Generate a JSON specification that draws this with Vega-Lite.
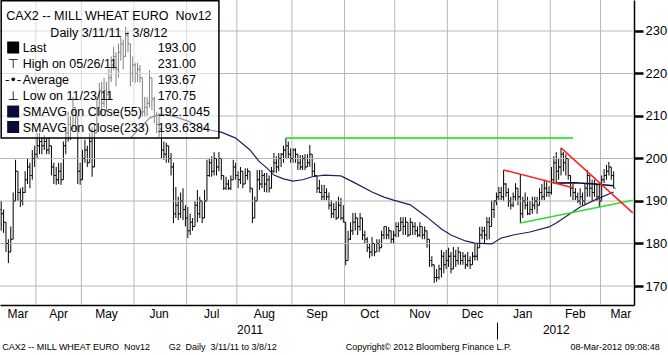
{
  "$schema": "https://vega.github.io/schema/vega-lite/v6.json",
  "width": 634,
  "height": 305,
  "autosize": "none",
  "padding": {"left": 0, "top": 0, "right": 34, "bottom": 50},
  "background": "white",
  "config": {"view": {"stroke": null}, "font": "Liberation Sans"},
  "datasets": {
    "px": [
      {"d":"2011-03-11","o":188,"h":190,"l":183,"c":187},
      {"d":"2011-03-14","o":187,"h":188,"l":182.5,"c":185},
      {"d":"2011-03-15","o":185,"h":185,"l":178,"c":180},
      {"d":"2011-03-16","o":180,"h":181,"l":175.4,"c":178},
      {"d":"2011-03-17","o":178,"h":184,"l":178,"c":181},
      {"d":"2011-03-18","o":181,"h":192,"l":181,"c":190},
      {"d":"2011-03-21","o":190,"h":199.7,"l":190,"c":197},
      {"d":"2011-03-22","o":197,"h":197,"l":190,"c":192},
      {"d":"2011-03-23","o":192,"h":193,"l":188.6,"c":190},
      {"d":"2011-03-24","o":190,"h":193.3,"l":189,"c":192},
      {"d":"2011-03-25","o":192,"h":197,"l":191.9,"c":195},
      {"d":"2011-03-28","o":195,"h":200,"l":194,"c":198},
      {"d":"2011-03-29","o":198,"h":199,"l":193,"c":196},
      {"d":"2011-03-30","o":196,"h":202,"l":195,"c":200},
      {"d":"2011-03-31","o":200,"h":203,"l":198,"c":201},
      {"d":"2011-04-01","o":201,"h":206,"l":200,"c":203},
      {"d":"2011-04-04","o":203,"h":206,"l":201,"c":204},
      {"d":"2011-04-05","o":204,"h":205,"l":201,"c":203},
      {"d":"2011-04-06","o":203,"h":205.5,"l":202,"c":204},
      {"d":"2011-04-07","o":204,"h":205,"l":201,"c":202},
      {"d":"2011-04-08","o":202,"h":205,"l":201,"c":203},
      {"d":"2011-04-11","o":203,"h":203,"l":196,"c":198},
      {"d":"2011-04-12","o":198,"h":199,"l":194,"c":196},
      {"d":"2011-04-13","o":196,"h":198,"l":193.8,"c":195},
      {"d":"2011-04-14","o":195,"h":199,"l":194,"c":197},
      {"d":"2011-04-15","o":197,"h":199,"l":193.8,"c":195},
      {"d":"2011-04-18","o":195,"h":204,"l":195,"c":203},
      {"d":"2011-04-19","o":203,"h":207.4,"l":201,"c":206},
      {"d":"2011-04-20","o":206,"h":211,"l":204,"c":208},
      {"d":"2011-04-21","o":208,"h":210,"l":204.4,"c":207},
      {"d":"2011-04-26","o":207,"h":214.5,"l":207,"c":212},
      {"d":"2011-04-27","o":212,"h":212,"l":206.7,"c":210},
      {"d":"2011-04-28","o":210,"h":210,"l":194,"c":197},
      {"d":"2011-04-29","o":197,"h":199,"l":193.8,"c":195},
      {"d":"2011-05-02","o":195,"h":202,"l":195,"c":200},
      {"d":"2011-05-03","o":200,"h":204.4,"l":199,"c":202},
      {"d":"2011-05-04","o":202,"h":203,"l":198,"c":199},
      {"d":"2011-05-05","o":199,"h":206,"l":199,"c":204},
      {"d":"2011-05-06","o":204,"h":207.4,"l":195.7,"c":198},
      {"d":"2011-05-09","o":198,"h":208,"l":198,"c":206},
      {"d":"2011-05-10","o":206,"h":214,"l":206,"c":212},
      {"d":"2011-05-11","o":212,"h":217.8,"l":210,"c":216},
      {"d":"2011-05-12","o":216,"h":218,"l":210,"c":213},
      {"d":"2011-05-13","o":213,"h":219,"l":212,"c":216},
      {"d":"2011-05-16","o":216,"h":218,"l":211,"c":215},
      {"d":"2011-05-17","o":215,"h":221,"l":214,"c":219},
      {"d":"2011-05-18","o":219,"h":224,"l":218,"c":222},
      {"d":"2011-05-19","o":222,"h":226.3,"l":220.8,"c":224},
      {"d":"2011-05-20","o":224,"h":225,"l":217,"c":221},
      {"d":"2011-05-23","o":221,"h":227,"l":219,"c":225},
      {"d":"2011-05-24","o":225,"h":228.5,"l":223,"c":227},
      {"d":"2011-05-25","o":227,"h":228,"l":221,"c":224},
      {"d":"2011-05-26","o":224,"h":231,"l":224,"c":229},
      {"d":"2011-05-27","o":229,"h":230,"l":225,"c":227},
      {"d":"2011-05-30","o":227,"h":227,"l":217,"c":220},
      {"d":"2011-05-31","o":220,"h":224,"l":218,"c":222},
      {"d":"2011-06-01","o":222,"h":222.5,"l":217.8,"c":220},
      {"d":"2011-06-02","o":220,"h":222.5,"l":218,"c":221},
      {"d":"2011-06-03","o":221,"h":222,"l":217.8,"c":219},
      {"d":"2011-06-06","o":219,"h":219,"l":209.8,"c":211},
      {"d":"2011-06-07","o":211,"h":214.5,"l":209.8,"c":212},
      {"d":"2011-06-08","o":212,"h":214.5,"l":210,"c":213},
      {"d":"2011-06-09","o":213,"h":220.8,"l":212,"c":219},
      {"d":"2011-06-10","o":219,"h":219,"l":211.4,"c":214},
      {"d":"2011-06-13","o":214,"h":214.5,"l":208.3,"c":210},
      {"d":"2011-06-14","o":210,"h":211,"l":206,"c":208},
      {"d":"2011-06-15","o":208,"h":210.7,"l":205.1,"c":207},
      {"d":"2011-06-16","o":207,"h":207,"l":200,"c":202},
      {"d":"2011-06-17","o":202,"h":204,"l":199.7,"c":201},
      {"d":"2011-06-20","o":201,"h":203.7,"l":199,"c":203},
      {"d":"2011-06-21","o":203,"h":203,"l":199,"c":200},
      {"d":"2011-06-22","o":200,"h":201.3,"l":196,"c":198},
      {"d":"2011-06-23","o":198,"h":199,"l":184.8,"c":187},
      {"d":"2011-06-24","o":187,"h":193.3,"l":186,"c":189},
      {"d":"2011-06-27","o":189,"h":191,"l":185.5,"c":187},
      {"d":"2011-06-28","o":187,"h":192,"l":186,"c":190},
      {"d":"2011-06-29","o":190,"h":193,"l":185.5,"c":188},
      {"d":"2011-06-30","o":188,"h":189,"l":184,"c":186},
      {"d":"2011-07-01","o":186,"h":188.6,"l":181.3,"c":183},
      {"d":"2011-07-04","o":183,"h":187,"l":182,"c":185},
      {"d":"2011-07-05","o":185,"h":186,"l":183,"c":184},
      {"d":"2011-07-06","o":184,"h":190,"l":184,"c":189},
      {"d":"2011-07-07","o":189,"h":192.6,"l":185,"c":187},
      {"d":"2011-07-08","o":187,"h":191,"l":186,"c":190},
      {"d":"2011-07-11","o":190,"h":190,"l":184.8,"c":186},
      {"d":"2011-07-12","o":186,"h":192.6,"l":186,"c":190},
      {"d":"2011-07-13","o":190,"h":199.7,"l":190,"c":196},
      {"d":"2011-07-14","o":196,"h":200,"l":195.7,"c":199},
      {"d":"2011-07-15","o":199,"h":200.5,"l":195.7,"c":197},
      {"d":"2011-07-18","o":197,"h":201.5,"l":196,"c":200},
      {"d":"2011-07-19","o":200,"h":200,"l":196,"c":198},
      {"d":"2011-07-20","o":198,"h":201.5,"l":197,"c":200},
      {"d":"2011-07-21","o":200,"h":200,"l":195,"c":196},
      {"d":"2011-07-22","o":196,"h":196,"l":192.6,"c":193},
      {"d":"2011-07-25","o":193,"h":195.7,"l":192.6,"c":194},
      {"d":"2011-07-26","o":194,"h":195,"l":192.6,"c":193},
      {"d":"2011-07-27","o":193,"h":196,"l":192.6,"c":195},
      {"d":"2011-07-28","o":195,"h":199.7,"l":195,"c":198},
      {"d":"2011-07-29","o":198,"h":199,"l":195,"c":196},
      {"d":"2011-08-01","o":196,"h":197,"l":193,"c":195},
      {"d":"2011-08-02","o":195,"h":198,"l":194,"c":197},
      {"d":"2011-08-03","o":197,"h":197,"l":193,"c":194},
      {"d":"2011-08-04","o":194,"h":197.7,"l":194,"c":196},
      {"d":"2011-08-05","o":196,"h":197.7,"l":195,"c":197},
      {"d":"2011-08-08","o":197,"h":197,"l":192,"c":193},
      {"d":"2011-08-09","o":193,"h":193,"l":184.8,"c":186},
      {"d":"2011-08-10","o":186,"h":191,"l":186,"c":190},
      {"d":"2011-08-11","o":190,"h":197.3,"l":190,"c":195},
      {"d":"2011-08-12","o":195,"h":197.3,"l":192.6,"c":194},
      {"d":"2011-08-15","o":194,"h":197.3,"l":193,"c":196},
      {"d":"2011-08-16","o":196,"h":196.6,"l":192.1,"c":194},
      {"d":"2011-08-17","o":194,"h":196.6,"l":192,"c":195},
      {"d":"2011-08-18","o":195,"h":196,"l":192,"c":193},
      {"d":"2011-08-19","o":193,"h":198,"l":193,"c":197},
      {"d":"2011-08-22","o":197,"h":201.3,"l":196.6,"c":199},
      {"d":"2011-08-23","o":199,"h":200.5,"l":196.6,"c":198},
      {"d":"2011-08-24","o":198,"h":201.3,"l":197,"c":200},
      {"d":"2011-08-25","o":200,"h":201.3,"l":198,"c":201},
      {"d":"2011-08-26","o":201,"h":203,"l":199,"c":202},
      {"d":"2011-08-29","o":202,"h":204.8,"l":200,"c":203},
      {"d":"2011-08-30","o":203,"h":204,"l":200,"c":201},
      {"d":"2011-08-31","o":201,"h":202.4,"l":199,"c":200},
      {"d":"2011-09-01","o":200,"h":202.4,"l":199,"c":202},
      {"d":"2011-09-02","o":202,"h":202.4,"l":199,"c":201},
      {"d":"2011-09-05","o":201,"h":201,"l":197.3,"c":199},
      {"d":"2011-09-06","o":199,"h":200.8,"l":197.3,"c":198},
      {"d":"2011-09-07","o":198,"h":200.8,"l":197.3,"c":200},
      {"d":"2011-09-08","o":200,"h":201,"l":197.3,"c":198},
      {"d":"2011-09-09","o":198,"h":201,"l":198,"c":199},
      {"d":"2011-09-12","o":199,"h":203.2,"l":198,"c":201},
      {"d":"2011-09-13","o":201,"h":201,"l":195.7,"c":197},
      {"d":"2011-09-14","o":197,"h":199,"l":195.7,"c":196},
      {"d":"2011-09-15","o":196,"h":196,"l":191.9,"c":193},
      {"d":"2011-09-16","o":193,"h":195,"l":191.9,"c":192},
      {"d":"2011-09-19","o":192,"h":193.8,"l":190.2,"c":191},
      {"d":"2011-09-20","o":191,"h":193.8,"l":190.2,"c":192},
      {"d":"2011-09-21","o":192,"h":193,"l":190.2,"c":191},
      {"d":"2011-09-22","o":191,"h":192,"l":188,"c":189},
      {"d":"2011-09-23","o":189,"h":190.2,"l":186,"c":187},
      {"d":"2011-09-26","o":187,"h":189.5,"l":186,"c":188},
      {"d":"2011-09-27","o":188,"h":190,"l":185.5,"c":186},
      {"d":"2011-09-28","o":186,"h":191,"l":186,"c":189},
      {"d":"2011-09-29","o":189,"h":190.7,"l":185.5,"c":186},
      {"d":"2011-09-30","o":186,"h":189,"l":185,"c":185},
      {"d":"2011-10-03","o":185,"h":185,"l":174.9,"c":176},
      {"d":"2011-10-04","o":176,"h":183,"l":176,"c":181},
      {"d":"2011-10-05","o":181,"h":185,"l":180.8,"c":183},
      {"d":"2011-10-06","o":183,"h":187.2,"l":182,"c":185},
      {"d":"2011-10-07","o":185,"h":187.2,"l":183,"c":186},
      {"d":"2011-10-10","o":186,"h":186,"l":182,"c":184},
      {"d":"2011-10-11","o":184,"h":187.2,"l":183,"c":186},
      {"d":"2011-10-12","o":186,"h":186,"l":180.8,"c":182},
      {"d":"2011-10-13","o":182,"h":183,"l":180,"c":181},
      {"d":"2011-10-14","o":181,"h":181.5,"l":178,"c":179},
      {"d":"2011-10-17","o":179,"h":180,"l":176.6,"c":178},
      {"d":"2011-10-18","o":178,"h":181.5,"l":177,"c":180},
      {"d":"2011-10-19","o":180,"h":180,"l":177,"c":178},
      {"d":"2011-10-20","o":178,"h":181,"l":178,"c":180},
      {"d":"2011-10-21","o":180,"h":181,"l":178,"c":179},
      {"d":"2011-10-24","o":179,"h":183,"l":179,"c":182},
      {"d":"2011-10-25","o":182,"h":184,"l":181,"c":184},
      {"d":"2011-10-26","o":184,"h":184,"l":181,"c":182},
      {"d":"2011-10-27","o":182,"h":183.9,"l":181,"c":183},
      {"d":"2011-10-28","o":183,"h":183,"l":180,"c":181},
      {"d":"2011-10-31","o":181,"h":183,"l":180,"c":182},
      {"d":"2011-11-01","o":182,"h":185,"l":181.5,"c":184},
      {"d":"2011-11-02","o":184,"h":185,"l":181.5,"c":183},
      {"d":"2011-11-03","o":183,"h":186.2,"l":183,"c":185},
      {"d":"2011-11-04","o":185,"h":186.2,"l":182,"c":184},
      {"d":"2011-11-07","o":184,"h":186.2,"l":182,"c":185},
      {"d":"2011-11-08","o":185,"h":185,"l":181.5,"c":182},
      {"d":"2011-11-09","o":182,"h":186,"l":182,"c":185},
      {"d":"2011-11-10","o":185,"h":185,"l":182,"c":184},
      {"d":"2011-11-11","o":184,"h":185,"l":182,"c":183},
      {"d":"2011-11-14","o":183,"h":184,"l":181.5,"c":182},
      {"d":"2011-11-15","o":182,"h":185,"l":181.5,"c":184},
      {"d":"2011-11-16","o":184,"h":184,"l":181,"c":182},
      {"d":"2011-11-17","o":182,"h":184,"l":181,"c":183},
      {"d":"2011-11-18","o":183,"h":183,"l":179,"c":181},
      {"d":"2011-11-21","o":181,"h":181,"l":174.5,"c":176},
      {"d":"2011-11-22","o":176,"h":177,"l":174.5,"c":175},
      {"d":"2011-11-23","o":175,"h":175,"l":170.75,"c":172},
      {"d":"2011-11-24","o":172,"h":174,"l":171,"c":172},
      {"d":"2011-11-25","o":172,"h":175,"l":171.5,"c":174},
      {"d":"2011-11-28","o":174,"h":178.5,"l":172,"c":177},
      {"d":"2011-11-29","o":177,"h":178,"l":173,"c":175},
      {"d":"2011-11-30","o":175,"h":178.5,"l":174,"c":176},
      {"d":"2011-12-01","o":176,"h":179,"l":174.5,"c":177},
      {"d":"2011-12-02","o":177,"h":178,"l":173,"c":174},
      {"d":"2011-12-05","o":174,"h":179.2,"l":174,"c":177},
      {"d":"2011-12-06","o":177,"h":178.5,"l":174.5,"c":176},
      {"d":"2011-12-07","o":176,"h":179.2,"l":175,"c":178},
      {"d":"2011-12-08","o":178,"h":178,"l":175,"c":176},
      {"d":"2011-12-09","o":176,"h":178,"l":175,"c":177},
      {"d":"2011-12-12","o":177,"h":177.5,"l":174,"c":175},
      {"d":"2011-12-13","o":175,"h":178,"l":174.5,"c":176},
      {"d":"2011-12-14","o":176,"h":177,"l":174,"c":175},
      {"d":"2011-12-15","o":175,"h":178,"l":175,"c":177},
      {"d":"2011-12-16","o":177,"h":180,"l":176,"c":177},
      {"d":"2011-12-19","o":177,"h":180,"l":176,"c":179},
      {"d":"2011-12-20","o":179,"h":183.9,"l":179,"c":182},
      {"d":"2011-12-21","o":182,"h":184,"l":181,"c":183},
      {"d":"2011-12-22","o":183,"h":183.9,"l":180,"c":182},
      {"d":"2011-12-23","o":182,"h":186.2,"l":180.8,"c":185},
      {"d":"2011-12-27","o":185,"h":186.2,"l":181,"c":184},
      {"d":"2011-12-28","o":184,"h":190.2,"l":184,"c":188},
      {"d":"2011-12-29","o":188,"h":190.2,"l":186,"c":190},
      {"d":"2011-12-30","o":190,"h":192,"l":189,"c":191},
      {"d":"2012-01-02","o":191,"h":193.3,"l":190.2,"c":192},
      {"d":"2012-01-03","o":192,"h":193.3,"l":190.2,"c":191},
      {"d":"2012-01-04","o":191,"h":197.3,"l":190,"c":194},
      {"d":"2012-01-05","o":194,"h":194.2,"l":191,"c":192},
      {"d":"2012-01-06","o":192,"h":193,"l":188.6,"c":190},
      {"d":"2012-01-09","o":190,"h":191,"l":188,"c":189},
      {"d":"2012-01-10","o":189,"h":192,"l":188.6,"c":191},
      {"d":"2012-01-11","o":191,"h":194.2,"l":190,"c":193},
      {"d":"2012-01-12","o":193,"h":193,"l":189,"c":191},
      {"d":"2012-01-13","o":191,"h":196.3,"l":184.8,"c":187},
      {"d":"2012-01-16","o":187,"h":191,"l":186,"c":190},
      {"d":"2012-01-17","o":190,"h":192,"l":188,"c":189},
      {"d":"2012-01-18","o":189,"h":191,"l":186.7,"c":187},
      {"d":"2012-01-19","o":187,"h":190,"l":186.7,"c":188},
      {"d":"2012-01-20","o":188,"h":191,"l":187,"c":189},
      {"d":"2012-01-23","o":189,"h":191,"l":188,"c":190},
      {"d":"2012-01-24","o":190,"h":191,"l":187,"c":189},
      {"d":"2012-01-25","o":189,"h":193,"l":189,"c":192},
      {"d":"2012-01-26","o":192,"h":194,"l":190.2,"c":191},
      {"d":"2012-01-27","o":191,"h":195,"l":190.2,"c":193},
      {"d":"2012-01-30","o":193,"h":194.5,"l":191,"c":192},
      {"d":"2012-01-31","o":192,"h":193.5,"l":191,"c":192},
      {"d":"2012-02-01","o":192,"h":198,"l":191.5,"c":195},
      {"d":"2012-02-02","o":195,"h":200.5,"l":194,"c":199},
      {"d":"2012-02-03","o":199,"h":201.5,"l":194,"c":197},
      {"d":"2012-02-06","o":197,"h":200,"l":195,"c":198},
      {"d":"2012-02-07","o":198,"h":202.5,"l":196,"c":201},
      {"d":"2012-02-08","o":201,"h":201.5,"l":197,"c":199},
      {"d":"2012-02-09","o":199,"h":201,"l":196,"c":200},
      {"d":"2012-02-10","o":200,"h":200,"l":195,"c":196},
      {"d":"2012-02-13","o":196,"h":196,"l":191,"c":193},
      {"d":"2012-02-14","o":193,"h":194,"l":190.2,"c":192},
      {"d":"2012-02-15","o":192,"h":193,"l":190.2,"c":191},
      {"d":"2012-02-16","o":191,"h":192,"l":189.5,"c":190},
      {"d":"2012-02-17","o":190,"h":193,"l":189,"c":191},
      {"d":"2012-02-20","o":191,"h":192,"l":189,"c":190},
      {"d":"2012-02-21","o":190,"h":194,"l":189,"c":193},
      {"d":"2012-02-22","o":193,"h":197.3,"l":191,"c":196},
      {"d":"2012-02-23","o":196,"h":196,"l":191,"c":193},
      {"d":"2012-02-24","o":193,"h":195,"l":190,"c":192},
      {"d":"2012-02-27","o":192,"h":195,"l":191,"c":194},
      {"d":"2012-02-28","o":194,"h":194,"l":190,"c":191},
      {"d":"2012-02-29","o":191,"h":194.2,"l":188.5,"c":190},
      {"d":"2012-03-01","o":190,"h":196,"l":190,"c":195},
      {"d":"2012-03-02","o":195,"h":197.5,"l":194.2,"c":196},
      {"d":"2012-03-05","o":196,"h":198.5,"l":195,"c":197},
      {"d":"2012-03-06","o":197,"h":199.2,"l":196,"c":198},
      {"d":"2012-03-07","o":198,"h":198,"l":195,"c":196},
      {"d":"2012-03-08","o":196,"h":197,"l":193,"c":193}
    ],
    "sma55": [
      {"d":"2011-05-30","s":204.8},
      {"d":"2011-06-03","s":207.2},
      {"d":"2011-06-09","s":209.5},
      {"d":"2011-06-14","s":210.2},
      {"d":"2011-06-20","s":210.3},
      {"d":"2011-06-24","s":209.8},
      {"d":"2011-07-01","s":208.8},
      {"d":"2011-07-08","s":207.4},
      {"d":"2011-07-14","s":206.7},
      {"d":"2011-07-21","s":206.2},
      {"d":"2011-07-29","s":204.8},
      {"d":"2011-08-08","s":202.0},
      {"d":"2011-08-12","s":199.2},
      {"d":"2011-08-17","s":197.8},
      {"d":"2011-08-22","s":196.1},
      {"d":"2011-08-26","s":195.2},
      {"d":"2011-09-01","s":194.7},
      {"d":"2011-09-07","s":195.0},
      {"d":"2011-09-13","s":195.7},
      {"d":"2011-09-20","s":196.1},
      {"d":"2011-09-29","s":195.9},
      {"d":"2011-10-07","s":194.2},
      {"d":"2011-10-18","s":192.1},
      {"d":"2011-10-25","s":190.9},
      {"d":"2011-10-31","s":190.2},
      {"d":"2011-11-09","s":189.1},
      {"d":"2011-11-18","s":186.2},
      {"d":"2011-11-28","s":183.4},
      {"d":"2011-12-02","s":182.0},
      {"d":"2011-12-12","s":180.6},
      {"d":"2011-12-16","s":180.1},
      {"d":"2011-12-28","s":179.9},
      {"d":"2012-01-03","s":181.3},
      {"d":"2012-01-10","s":182.0},
      {"d":"2012-01-19","s":182.7},
      {"d":"2012-01-31","s":183.9},
      {"d":"2012-02-03","s":184.8},
      {"d":"2012-02-10","s":186.7},
      {"d":"2012-02-17","s":188.6},
      {"d":"2012-02-27","s":190.2},
      {"d":"2012-03-08","s":192.1}
    ],
    "sma233": [
      {"d":"2012-02-03","s":194.2},
      {"d":"2012-02-15","s":194.3},
      {"d":"2012-02-27","s":194.0},
      {"d":"2012-03-08","s":193.6}
    ],
    "trend": [
      {"g":"gh","d":"2011-08-29","p":204.8},
      {"g":"gh","d":"2012-02-14","p":204.8},
      {"g":"gt","d":"2012-01-13","p":184.8},
      {"g":"gt","d":"2012-03-20","p":190.2},
      {"g":"r1","d":"2012-01-04","p":197.3},
      {"g":"r1","d":"2012-02-14","p":193.1},
      {"g":"r2","d":"2012-02-07","p":202.5},
      {"g":"r2","d":"2012-03-20","p":187.2}
    ],
    "hgrid": [{"v":170},{"v":180},{"v":190},{"v":200},{"v":210},{"v":220},{"v":230}],
    "vgrid": [{"m":"2011-04-01"},{"m":"2011-05-02"},{"m":"2011-06-01"},{"m":"2011-07-01"},{"m":"2011-08-01"},{"m":"2011-09-01"},{"m":"2011-10-03"},{"m":"2011-11-01"},{"m":"2011-12-01"},{"m":"2012-01-02"},{"m":"2012-02-01"},{"m":"2012-03-01"}]
  },
  "layer": [
    {
      "data": {"name": "px"},
      "mark": {"type": "rule", "color": "#000000", "strokeWidth": 1},
      "encoding": {
        "x": {"field": "d", "type": "ordinal", "title": null,
          "scale": {"type": "band", "paddingInner": 0, "paddingOuter": 0,
            "domain": {"unionWith": ["2012-03-09","2012-03-12","2012-03-13","2012-03-14","2012-03-15","2012-03-16","2012-03-19","2012-03-20"]}},
          "axis": {"orient": "bottom", "values": ["2011-04-01"], "grid": false,
            "labels": false, "ticks": false, "domain": true, "domainColor": "#000000", "domainWidth": 1.5}},
        "y": {"field": "l", "type": "quantitative", "title": null,
          "scale": {"domain": [165.53, 237.29], "nice": false, "zero": false},
          "axis": {"orient": "right", "values": [170,175,180,185,190,195,200,205,210,215,220,225,230,235],
            "grid": false,
            "tickColor": "#000000",
            "tickSize": {"condition": {"test": "datum.value % 10 != 0", "value": 4}, "value": 9},
            "tickWidth": {"condition": {"test": "datum.value % 10 != 0", "value": 1}, "value": 2.5},
            "labelExpr": "datum.value % 10 == 0 ? datum.label : ''",
            "labelFontSize": 13, "labelColor": "#000000", "labelPadding": 2,
            "domainColor": "#000000", "domainWidth": 1.5}},
        "y2": {"field": "h"}
      }
    },
    {
      "data": {"name": "hgrid"},
      "mark": {"type": "rule", "color": "#b8b8b8", "strokeWidth": 1},
      "encoding": {
        "x": {"datum": "2011-03-11", "type": "ordinal", "title": null, "bandPosition": 0, "scale": {"type": "band"}, "axis": null},
        "x2": {"datum": "2012-03-20"},
        "y": {"field": "v", "type": "quantitative", "title": null}
      }
    },
    {
      "data": {"name": "vgrid"},
      "mark": {"type": "rule", "color": "#b8b8b8", "strokeWidth": 1},
      "encoding": {
        "x": {"field": "m", "type": "ordinal", "title": null, "bandPosition": 0, "scale": {"type": "band"}, "axis": null},
        "y": {"datum": 237.29, "type": "quantitative", "title": null},
        "y2": {"datum": 165.53}
      }
    },
    {
      "data": {"name": "px"},
      "mark": {"type": "tick", "orient": "horizontal", "color": "#000000", "size": 2, "thickness": 1, "xOffset": -1},
      "encoding": {
        "x": {"field": "d", "type": "ordinal", "title": null, "scale": {"type": "band"},
          "axis": {"orient": "bottom", "values": ["2011-03-22","2011-04-14","2011-05-16","2011-06-15","2011-07-15","2011-08-16","2011-09-15","2011-10-17","2011-11-15","2011-12-15","2012-01-16","2012-02-15","2012-03-13"],
            "labelExpr": "utcFormat(toDate(datum.value), '%b')", "ticks": false, "grid": false, "domain": false,
            "labelFontSize": 12, "labelColor": "#000000", "labelPadding": 3, "labelAngle": 0, "labelOverlap": false}},
        "y": {"field": "o", "type": "quantitative", "title": null}
      }
    },
    {
      "data": {"name": "px"},
      "mark": {"type": "tick", "orient": "horizontal", "color": "#000000", "size": 2, "thickness": 1, "xOffset": 1},
      "encoding": {
        "x": {"field": "d", "type": "ordinal", "title": null, "scale": {"type": "band"},
          "axis": {"orient": "bottom", "offset": 17, "values": ["2011-08-08","2012-01-02","2012-02-03"], "bandPosition": 0,
            "labelExpr": "datum.value == '2012-01-02' ? '' : slice(datum.value, 0, 4)",
            "ticks": true, "tickSize": 17, "tickColor": "#000000", "tickWidth": 1,
            "tickOpacity": {"condition": {"test": "datum.value != '2012-01-02'", "value": 0}, "value": 1},
            "grid": false, "domain": false, "labelPadding": -15,
            "labelFontSize": 12, "labelColor": "#000000", "labelAngle": 0, "labelOverlap": false}},
        "y": {"field": "c", "type": "quantitative", "title": null}
      }
    },
    {
      "data": {"name": "sma55"},
      "mark": {"type": "line", "color": "#1f1f5c", "strokeWidth": 1.2},
      "encoding": {
        "x": {"field": "d", "type": "ordinal", "title": null, "scale": {"type": "band"}, "axis": null},
        "y": {"field": "s", "type": "quantitative", "title": null}
      }
    },
    {
      "data": {"name": "sma233"},
      "mark": {"type": "line", "color": "#0a0a3a", "strokeWidth": 1.6},
      "encoding": {
        "x": {"field": "d", "type": "ordinal", "title": null, "scale": {"type": "band"}, "axis": null},
        "y": {"field": "s", "type": "quantitative", "title": null}
      }
    },
    {
      "data": {"name": "trend"},
      "mark": {"type": "line", "strokeWidth": 1.5},
      "encoding": {
        "x": {"field": "d", "type": "ordinal", "title": null, "scale": {"type": "band"}, "axis": null},
        "y": {"field": "p", "type": "quantitative", "title": null},
        "detail": {"field": "g"},
        "color": {"field": "g", "type": "nominal", "legend": null,
          "scale": {"domain": ["gh","gt","r1","r2"], "range": ["#00e600","#33dd33","#ff2020","#ff2020"]}}
      }
    },
    {
      "data": {"values": [{}]},
      "mark": {"type": "rect", "fill": "#ffffff", "fillOpacity": 0.5, "stroke": "#000000", "strokeWidth": 1.5},
      "encoding": {
        "x": {"datum": "2011-03-11", "type": "ordinal", "title": null, "scale": {"type": "band"}, "axis": null},
        "x2": {"datum": "2011-07-20"},
        "y": {"datum": 237.1, "type": "quantitative", "title": null},
        "y2": {"datum": 204.82}
      }
    },
    {
      "data": {"values": [{}]},
      "mark": {"type": "text", "align": "center", "baseline": "top", "fontSize": 12.5, "lineHeight": 17, "color": "#000000"},
      "encoding": {
        "x": {"datum": "2011-05-17", "type": "ordinal", "title": null, "scale": {"type": "band"}, "axis": null},
        "y": {"datum": 235.03, "type": "quantitative", "title": null},
        "text": {"value": ["CAX2 -- MILL WHEAT EURO\u00a0\u00a0Nov12", "Daily 3/11/11 - 3/8/12"]}
      }
    },
    {
      "data": {"values": [{}]},
      "mark": {"type": "text", "align": "left", "baseline": "top", "fontSize": 12.5, "lineHeight": 16, "color": "#000000"},
      "encoding": {
        "x": {"datum": "2011-03-24", "type": "ordinal", "title": null, "scale": {"type": "band"}, "axis": null},
        "y": {"datum": 227.5, "type": "quantitative", "title": null},
        "text": {"value": ["Last", "High on 05/26/11", "Average", "Low on 11/23/11", "SMAVG on Close(55)", "SMAVG on Close(233)"]}
      }
    },
    {
      "data": {"values": [{}]},
      "mark": {"type": "text", "align": "left", "baseline": "top", "fontSize": 12.5, "lineHeight": 16, "color": "#000000", "dx": 1},
      "encoding": {
        "x": {"datum": "2011-06-14", "type": "ordinal", "title": null, "scale": {"type": "band"}, "axis": null},
        "y": {"datum": 227.5, "type": "quantitative", "title": null},
        "text": {"value": ["193.00", "231.00", "193.67", "170.75", "192.1045", "193.6384"]}
      }
    },
    {
      "data": {"values": [{}]},
      "mark": {"type": "text", "align": "center", "baseline": "top", "fontSize": 12.5, "lineHeight": 16, "color": "#000000", "font": "DejaVu Sans"},
      "encoding": {
        "x": {"datum": "2011-03-18", "type": "ordinal", "title": null, "scale": {"type": "band"}, "axis": null},
        "y": {"datum": 223.74, "type": "quantitative", "title": null},
        "text": {"value": ["\u22a4", "-\u2022-", "\u22a5"]}
      }
    },
    {
      "data": {"values": [{}]},
      "mark": {"type": "point", "shape": "square", "filled": true, "size": 144, "color": "#000000", "opacity": 1},
      "encoding": {
        "x": {"datum": "2011-03-18", "type": "ordinal", "title": null, "scale": {"type": "band"}, "axis": null},
        "y": {"datum": 226.11, "type": "quantitative", "title": null}
      }
    },
    {
      "data": {"values": [{}]},
      "mark": {"type": "point", "shape": "square", "filled": true, "size": 144, "color": "#0b0b3b", "opacity": 1},
      "encoding": {
        "x": {"datum": "2011-03-18", "type": "ordinal", "title": null, "scale": {"type": "band"}, "axis": null},
        "y": {"datum": 211.05, "type": "quantitative", "title": null}
      }
    },
    {
      "data": {"values": [{}]},
      "mark": {"type": "point", "shape": "square", "filled": true, "size": 144, "color": "#0b0b3b", "opacity": 1},
      "encoding": {
        "x": {"datum": "2011-03-18", "type": "ordinal", "title": null, "scale": {"type": "band"}, "axis": null},
        "y": {"datum": 207.41, "type": "quantitative", "title": null}
      }
    },
    {
      "data": {"values": [{}]},
      "mark": {"type": "text", "align": "left", "baseline": "middle", "fontSize": 9, "color": "#000000", "dx": 1},
      "encoding": {
        "x": {"datum": "2011-03-11", "type": "ordinal", "title": null, "scale": {"type": "band"}, "axis": null},
        "y": {"datum": 155.64, "type": "quantitative", "title": null},
        "text": {"value": "CAX2 -- MILL WHEAT EURO\u00a0\u00a0Nov12"}
      }
    },
    {
      "data": {"values": [{}]},
      "mark": {"type": "text", "align": "left", "baseline": "middle", "fontSize": 9, "color": "#000000"},
      "encoding": {
        "x": {"datum": "2011-06-21", "type": "ordinal", "title": null, "scale": {"type": "band"}, "axis": null},
        "y": {"datum": 155.64, "type": "quantitative", "title": null},
        "text": {"value": "G2"}
      }
    },
    {
      "data": {"values": [{}]},
      "mark": {"type": "text", "align": "left", "baseline": "middle", "fontSize": 9, "color": "#000000"},
      "encoding": {
        "x": {"datum": "2011-06-30", "type": "ordinal", "title": null, "scale": {"type": "band"}, "axis": null},
        "y": {"datum": 155.64, "type": "quantitative", "title": null},
        "text": {"value": "Daily\u00a0\u00a03/11/11 to 3/8/12"}
      }
    },
    {
      "data": {"values": [{}]},
      "mark": {"type": "text", "align": "left", "baseline": "middle", "fontSize": 9, "color": "#000000"},
      "encoding": {
        "x": {"datum": "2011-10-03", "type": "ordinal", "title": null, "scale": {"type": "band"}, "axis": null},
        "y": {"datum": 155.64, "type": "quantitative", "title": null},
        "text": {"value": "Copyright\u00a9 2012 Bloomberg Finance L.P."}
      }
    },
    {
      "data": {"values": [{}]},
      "mark": {"type": "text", "align": "left", "baseline": "middle", "fontSize": 9, "color": "#000000"},
      "encoding": {
        "x": {"datum": "2012-02-13", "type": "ordinal", "title": null, "scale": {"type": "band"}, "axis": null},
        "y": {"datum": 155.64, "type": "quantitative", "title": null},
        "text": {"value": "08-Mar-2012 09:08:48"}
      }
    }
  ],
  "resolve": {"axis": {"x": "independent"}}
}
